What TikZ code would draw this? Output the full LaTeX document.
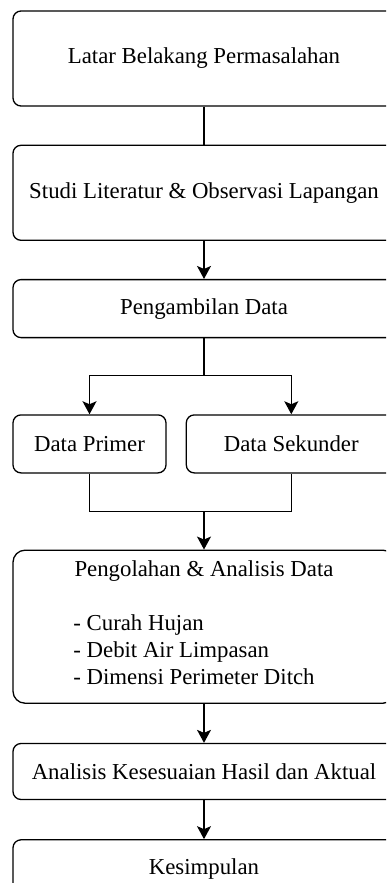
\documentclass[tikz,border=0pt]{standalone}
\usepackage{fontspec}
\setmainfont{Liberation Serif}
\usetikzlibrary{positioning, arrows.meta, calc}

\begin{document}
\begin{tikzpicture} [
						node distance=19pt,
						line width=0.65pt,
						box/.style={draw, rounded corners=4pt, minimum width=191pt, inner sep=2pt,
							font=\fontsize{11.4}{13.5}\selectfont, align=center},
						tip/.style={-{Stealth[length=6.5pt, width=7pt, inset=1.5pt]}}
					]

\useasboundingbox (-102pt,29.25pt) rectangle (91pt,-412.25pt);
\clip (-102pt,29.25pt) rectangle (91pt,-412.25pt);

\node (latar) [box, minimum height=47.5pt] {Latar Belakang Permasalahan};
\node (studi) [box, minimum height=47.5pt, below=of latar] {Studi Literatur \& Observasi Lapangan};
\node (ambil) [box, minimum height=29pt, below=of studi] {Pengambilan Data};
\coordinate (cabang) at ($(ambil.south)+(0,-18.5pt)$);
\node (primer) [box, minimum width=76.5pt, minimum height=29pt, below=38pt of ambil.south west, anchor=north west] {Data Primer};
\node (sekunder) [box, minimum width=105pt, minimum height=29pt, right=9.5pt of primer] {Data Sekunder};
\coordinate (gabung) at ($(primer.south -| cabang)+(0,-19pt)$);
\node (olah) [box, rounded corners=6pt, minimum height=76.5pt, below=of gabung]
	{Pengolahan \& Analisis Data\\[13.5pt]
	 \hspace*{-10pt}\begin{tabular}[t]{@{}l@{}}- Curah Hujan\\- Debit Air Limpasan\\- Dimensi Perimeter Ditch\end{tabular}};
\node (analisis) [box, minimum height=28pt, below=19.5pt of olah] {Analisis Kesesuaian Hasil dan Aktual};
\node (simpul) [box, minimum height=29pt, below=19.5pt of analisis] {Kesimpulan};

\draw (latar) -- (studi);
\draw (ambil) -- (cabang);
\draw (primer) |- (gabung) -| (sekunder);
\path[tip]
	(studi) edge (ambil)
	(cabang) edge [to path={-| (\tikztotarget)}] (primer)
	(cabang) edge [to path={-| (\tikztotarget)}] (sekunder)
	(gabung) edge (olah)
	(olah) edge (analisis)
	(analisis) edge (simpul);
\end{tikzpicture}
\end{document}
